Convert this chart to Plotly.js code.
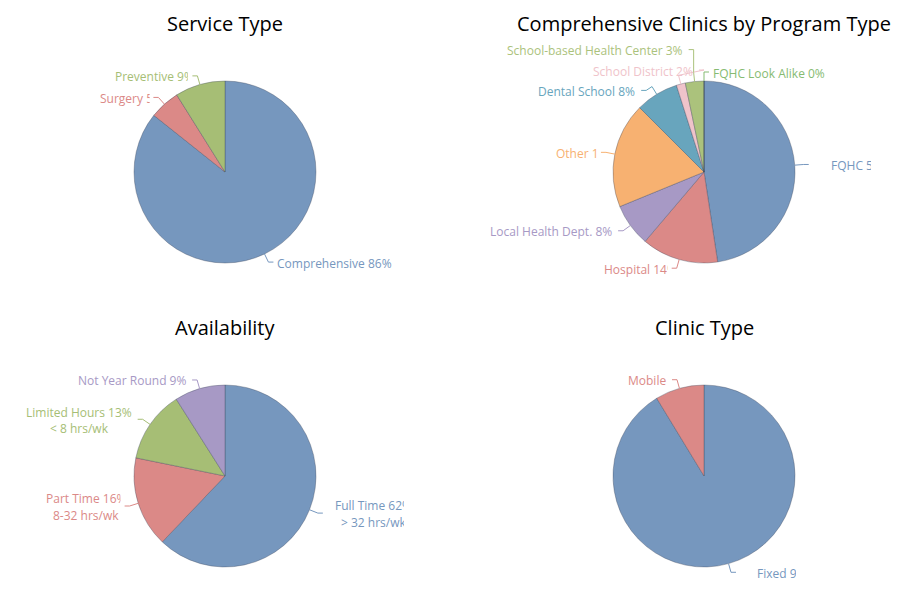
<!DOCTYPE html>
<html><head><meta charset="utf-8">
<script src="https://cdn.plot.ly/plotly-3.0.1.min.js"></script>
<style>html,body{margin:0;padding:0;background:#fff}</style>
</head><body><div id="chart" style="width:906px;height:600px"></div>
<script>
// ---------------- data ----------------
const serviceTitle = 'Service Type';
const serviceLabels = ['Comprehensive', 'Surgery', 'Preventive'];
const serviceValues = [85.7, 5.4, 8.9];
const servicePercentText = [86, 5, 9];

const programTitle = 'Comprehensive Clinics by Program Type';
const programLabels = ['FQHC', 'Hospital', 'Local Health Dept.', 'Other', 'Dental School',
  'School District', 'School-based Health Center', 'FQHC Look Alike'];
const programValues = [47.6, 13.6, 7.6, 18.7, 7.6, 1.6, 3.3, 0];
const programPercentText = [52, 14, 8, 19, 8, 2, 3, 0];

const availabilityTitle = 'Availability';
const availabilityLabels = ['Full Time', 'Part Time', 'Limited Hours', 'Not Year Round'];
const availabilityNotes = ['> 32 hrs/wk', '8-32 hrs/wk', '< 8 hrs/wk', ''];
const availabilityValues = [62.1, 16.1, 12.8, 9.0];
const availabilityPercentText = [62, 16, 13, 9];

const clinicTitle = 'Clinic Type';
const clinicLabels = ['Fixed', 'Mobile'];
const clinicValues = [91.3, 8.7];
const clinicPercentText = [91, 9];

// ---------------- style ----------------
const BLUE = '#7697BE', RED = '#DB8987', GREEN = '#A6BE75', PURPLE = '#A799C5',
  ORANGE = '#F7B171', TEAL = '#68A5BD', PINK = '#EFC3CA', LIGHTGREEN = '#ABC27C', DARKGREEN = '#86BB72';
const FONT = '"Open Sans", "DejaVu Sans", sans-serif';
const W = 906, H = 600, RADIUS = 91, DIST = 9, SLOT = 20.4, LINE_H = 16.5, TITLE_OFFSET = 149;
const GAP_RIGHT = 8, GAP_LEFT = 12, GAP_LEFT_CLIPPED = 10, LABEL_DY = 1;

const panels = [
  {title: serviceTitle, labels: serviceLabels, values: serviceValues, pct: servicePercentText, notes: null,
   colors: [BLUE, RED, GREEN], cx: 225, cy: 172, clip: {'Surgery': 49.6, 'Preventive': 73}},
  {title: programTitle, labels: programLabels, values: programValues, pct: programPercentText, notes: null,
   colors: [BLUE, RED, PURPLE, ORANGE, TEAL, PINK, LIGHTGREEN, DARKGREEN], cx: 704, cy: 172,
   clip: {'FQHC': 40, 'Hospital': 63.6, 'Other': 41.4}},
  {title: availabilityTitle, labels: availabilityLabels, values: availabilityValues, pct: availabilityPercentText,
   notes: availabilityNotes, colors: [BLUE, RED, GREEN, PURPLE], cx: 225, cy: 476,
   clip: {'Full Time': 69, 'Part Time': 74.6}},
  {title: clinicTitle, labels: clinicLabels, values: clinicValues, pct: clinicPercentText, notes: null,
   colors: [BLUE, RED], cx: 704, cy: 476, clip: {'Fixed': 39, 'Mobile': 40.4}}
];

// ---------------- helpers ----------------
const ctx = document.createElement('canvas').getContext('2d');
ctx.font = '12px "Open Sans"';
const tw = s => ctx.measureText(s).width;
const esc = s => s.replace(/&/g, '&amp;').replace(/</g, '&lt;').replace(/>/g, '&gt;');

// anti-collision: isolated labels keep their natural place, crowded ones snap to label slots
function distribute(grp, cy) {
  const sorted = [...grp].sort((a, b) => a.natY - b.natY);
  const clusters = [];
  sorted.forEach(it => {
    const last = clusters[clusters.length - 1];
    const prev = last && last[last.length - 1];
    if (prev && it.natY - prev.natY < (it.h + prev.h) / 2) last.push(it);
    else clusters.push([it]);
  });
  clusters.forEach(cl => {
    if (cl.length === 1) { cl[0].y = cl[0].natY; return; }
    const used = new Set();
    [...cl].sort((a, b) => b.v - a.v).forEach(it => {
      const k0 = Math.round((it.natY - cy) / SLOT);
      let best = null;
      for (let d = 0; d < 20 && best === null; d++) {
        const cands = [k0 - d, k0 + d, k0 - d - 1, k0 + d + 1].filter(k => !used.has(k));
        cands.sort((a, b) => Math.abs(cy + a * SLOT - it.natY) - Math.abs(cy + b * SLOT - it.natY));
        if (cands.length) best = cands[0];
      }
      used.add(best);
      it.y0 = cy + best * SLOT;
    });
    const ys = cl.map(it => it.y0).sort((a, b) => a - b);
    cl.forEach((it, k) => { it.y = ys[k]; });
  });
}

const traces = [{type: 'scatter', x: [], y: [], hoverinfo: 'skip', showlegend: false}];
const annotations = [], shapes = [];

panels.forEach(p => {
  const total = p.values.reduce((a, b) => a + b, 0);
  traces.push({
    type: 'pie', labels: p.labels, values: p.values, sort: false, direction: 'clockwise', rotation: 0,
    textinfo: 'none', hoverinfo: 'label+percent', showlegend: false,
    marker: {colors: p.colors, line: {color: 'rgba(60,70,90,0.35)', width: 1}},
    domain: {x: [(p.cx - RADIUS) / W, (p.cx + RADIUS) / W], y: [1 - (p.cy + RADIUS) / H, 1 - (p.cy - RADIUS) / H]}
  });
  annotations.push({xref: 'x', yref: 'y', x: p.cx, y: p.cy - TITLE_OFFSET, xanchor: 'center', yanchor: 'middle',
    text: esc(p.title), showarrow: false, font: {family: FONT, size: 20, color: '#000'}});

  const R = RADIUS + DIST;
  let cum = 0;
  const items = [];
  p.values.forEach((v, i) => {
    const th = 2 * Math.PI * (cum + v / 2) / total;
    cum += v;
    const ux = Math.sin(th), uy = -Math.cos(th);
    const side = ux > -1e-9 ? 1 : -1;
    const lines = [p.labels[i] + ' ' + p.pct[i] + '%'];
    if (p.notes && p.notes[i]) lines.push(p.notes[i]);
    items.push({i, v, side, lines, color: p.colors[i], clip: p.clip[p.labels[i]],
      ex: p.cx + RADIUS * ux, ey: p.cy + RADIUS * uy,
      bx: p.cx + R * ux, by: p.cy + R * uy, natY: p.cy + R * uy,
      h: SLOT + (lines.length - 1) * LINE_H});
  });

  [1, -1].forEach(s => {
    const grp = items.filter(it => it.side === s);
    if (!grp.length) return;
    distribute(grp, p.cy);
    const minY = Math.min(...grp.map(it => it.y)), maxY = Math.max(...grp.map(it => it.y));
    const top = p.cy - R, bot = p.cy + R;
    grp.forEach(it => {
      let yx = it.y;
      const displaced = Math.abs(it.y - it.natY) > 0.5;
      if (!displaced) yx = it.natY;
      else if (it.y < top + 2) yx = (it.y === minY) ? it.natY : top;
      else if (it.y > bot - 2) yx = (it.y === maxY) ? it.natY : bot;
      const x = p.cx + s * Math.sqrt(Math.max(0, R * R - (yx - p.cy) * (yx - p.cy)));
      const y = it.y;
      shapes.push({type: 'path', xref: 'x', yref: 'y', layer: 'above',
        path: `M ${x + s * 5},${y} L ${x},${y} L ${it.bx},${it.by} L ${it.ex},${it.ey}`,
        line: {color: it.color, width: 1}});
      const Wl = it.lines.map(tw), Wf = Math.max(...Wl);
      let frameLeft, clipRight = null;
      if (it.clip) {
        const boxRight = s > 0 ? x + GAP_RIGHT + Wf : x - GAP_LEFT_CLIPPED;
        frameLeft = boxRight - it.clip;
        clipRight = boxRight;
      } else {
        frameLeft = s > 0 ? x + GAP_RIGHT : x - GAP_LEFT - Wf;
      }
      it.lines.forEach((ln, k) => {
        const left = frameLeft + (Wf - Wl[k]) / 2;
        const ly = y + LABEL_DY + (k - (it.lines.length - 1) / 2) * LINE_H;
        const ann = {xref: 'x', yref: 'y', x: left, y: ly, xanchor: 'left', yanchor: 'middle',
          text: esc(ln), showarrow: false, align: 'left', borderpad: 0,
          font: {family: FONT, size: 12, color: it.color}};
        if (clipRight !== null && left + Wl[k] > clipRight) ann.width = Math.max(1, clipRight - left);
        annotations.push(ann);
      });
    });
  });
});

const layout = {
  width: W, height: H, margin: {l: 0, r: 0, t: 0, b: 0},
  paper_bgcolor: '#fff', plot_bgcolor: '#fff', showlegend: false,
  xaxis: {range: [0, W], visible: false, fixedrange: true},
  yaxis: {range: [H, 0], visible: false, fixedrange: true},
  annotations, shapes
};
Plotly.newPlot('chart', traces, layout, {staticPlot: true, displayModeBar: false});
</script>
</body></html>
